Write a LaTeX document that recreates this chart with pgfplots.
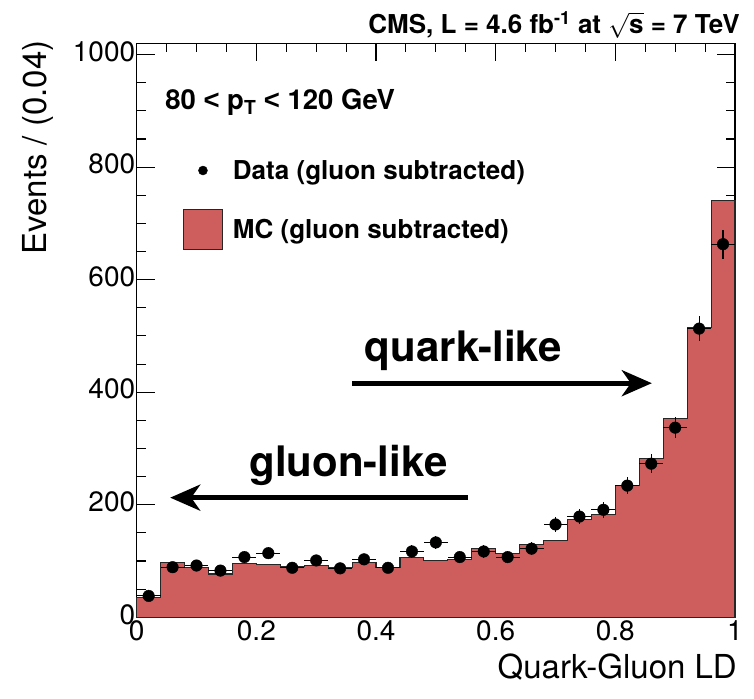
\documentclass[border=0pt]{standalone}
\usepackage{fontspec}
\setmainfont{TeX Gyre Heros}
\newfontfamily\lsans{Liberation Sans}
\usepackage{pgfplots}
\pgfplotsset{compat=1.18}
\usetikzlibrary{arrows.meta}

\definecolor{mcred}{RGB}{206,94,94}

\begin{document}
\begin{tikzpicture}
\useasboundingbox (-136.7pt,-81pt) rectangle (617.3pt,617.3pt);
\begin{axis}[
  at={(0pt,0pt)}, anchor=south west,
  scale only axis, width=598.3pt, height=574pt,
  xmin=0, xmax=1, ymin=0, ymax=1020,
  xtick={0,0.2,0.4,0.6,0.8,1},
  ytick={0,200,400,600,800,1000},
  minor x tick num=3, minor y tick num=3,
  tick align=inside,
  xtick pos=both, ytick pos=both,
  major tick length=18pt, minor tick length=9pt,
  every tick/.style={black, line width=1.1pt},
  axis line style={line width=1.3pt},
  /pgf/number format/assume math mode=true,
  /pgf/number format/1000 sep={},
  tick label style={font=\fontsize{28}{30}\selectfont},
  yticklabel style={xshift=2pt, yshift=3pt},
  xlabel={Quark-Gluon LD},
  ylabel={Events / (0.04)},
  label style={font=\fontsize{33}{36}\selectfont},
  xlabel style={at={(axis description cs:1,0)}, anchor=base east, inner sep=0pt, xshift=2pt, yshift=-61pt},
  ylabel style={at={(axis description cs:0,1)}, anchor=east, inner sep=0pt, xshift=3pt, yshift=98.7pt},
  clip=false,
  legend style={at={(rel axis cs:0.077,0.80)}, anchor=north west, draw=none, fill=none,
    inner sep=0pt, row sep=26pt, column sep=8pt,
    font=\bfseries\fontsize{26}{28}\selectfont},
  legend cell align=left,
]

% MC expectation, one value per 0.04 bin (left edges)
\addplot[const plot, fill=mcred, draw=black!85, line width=1.1pt, forget plot] table {
x    y
0.00 35
0.04 98
0.08 88
0.12 77
0.16 95
0.20 94
0.24 90
0.28 92
0.32 88
0.36 98
0.40 88
0.44 106
0.48 101
0.52 103
0.56 122
0.60 114
0.64 129
0.68 136
0.72 173
0.76 182
0.80 234
0.84 282
0.88 354
0.92 515
0.96 740
1.00 740
} \closedcycle;

% data at bin centres, Poisson errors
\addplot[only marks, mark=*, mark size=5.8pt, black, forget plot,
  error bars/.cd, y dir=both, y explicit, x dir=both, x fixed=0.02,
  error mark=none, error bar style={line width=1.1pt, black}]
  table[x=x, y=y, y error=e] {
x    y   e
0.02 38  6.2
0.06 89  9.4
0.10 92  9.6
0.14 83  9.1
0.18 107 10.3
0.22 114 10.7
0.26 88  9.4
0.30 101 10.0
0.34 87  9.3
0.38 103 10.1
0.42 88  9.4
0.46 117 10.8
0.50 133 11.5
0.54 107 10.3
0.58 117 10.8
0.62 107 10.3
0.66 122 11.0
0.70 165 12.8
0.74 179 13.4
0.78 191 13.8
0.82 234 15.3
0.86 273 16.5
0.90 337 18.4
0.94 513 22.6
0.98 663 25.7
};

\addlegendimage{legend image code/.code={\draw[black, mark size=4.5pt] plot[mark=*] coordinates {(19.5pt,0pt)};}}
\addlegendentry{Data (gluon subtracted)}
\addlegendimage{legend image code/.code={\draw[fill=mcred, draw=black!85, line width=1pt] (0pt,-20pt) rectangle (39pt,20pt);}}
\addlegendentry{MC (gluon subtracted)}

% annotations
\node[anchor=base east, font=\bfseries\fontsize{26}{28}\selectfont, inner sep=0pt]
  at (rel axis cs:1.008,1) [yshift=10pt]
  {CMS, L = 4.6 fb\textsuperscript{-1} at \ensuremath{\sqrt{\mbox{\bfseries s}}} = 7 TeV};
\node[anchor=west, font=\bfseries\fontsize{27.5}{29}\selectfont, inner sep=0pt]
  at (axis cs:0.0475,916) {80 {\lsans <} p\textsubscript{T} {\lsans <} 120 GeV};

\draw[line width=5pt, -{Stealth[length=30pt, width=26pt, inset=9pt]}] (axis cs:0.36,416) -- (axis cs:0.861,416);
\draw[line width=5pt, -{Stealth[length=30pt, width=26pt, inset=9pt]}] (axis cs:0.554,212.6) -- (axis cs:0.056,212.6);
\node[font=\bfseries\fontsize{42}{44}\selectfont, inner sep=0pt] at (axis cs:0.546,474) {quark-like};
\node[font=\bfseries\fontsize{42}{44}\selectfont, inner sep=0pt] at (axis cs:0.354,270) {gluon-like};
\end{axis}
\end{tikzpicture}
\end{document}
